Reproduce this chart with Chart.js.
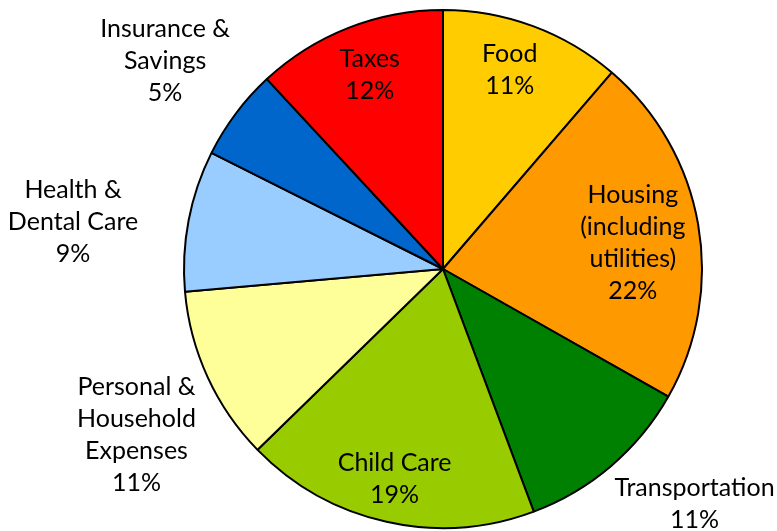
<!DOCTYPE html>
<html>
<head>
<meta charset="utf-8">
<script src="https://cdn.jsdelivr.net/npm/chart.js@4"></script>
<style>
  body { margin: 0; background: #fff; }
  #wrap { width: 777px; height: 531px; }
</style>
</head>
<body>
<div id="wrap"><canvas id="myChartBudget" width="777" height="531"></canvas></div>
<script>
// categories clockwise from 12 o'clock
const categories = ['Food', 'Housing (including utilities)', 'Transportation', 'Child Care',
  'Personal & Household Expenses', 'Health & Dental Care', 'Insurance & Savings', 'Taxes']
const labelLines = [['Food'], ['Housing', '(including', 'utilities)'], ['Transportation'], ['Child Care'],
  ['Personal &', 'Household', 'Expenses'], ['Health &', 'Dental Care'], ['Insurance &', 'Savings'], ['Taxes']]
const shares = [11.3, 21.9, 11.1, 18.4, 10.9, 8.8, 5.7, 11.9]
const pctLabels = ['11%', '22%', '11%', '19%', '11%', '9%', '5%', '12%']

const colors = ['#FFCC00', '#FF9900', '#008000', '#99CC00', '#FFFF99', '#99CCFF', '#0066CC', '#FF0000']
// where each label sits: fraction of radius, nudge in degrees
const labelRadius = [0.81, 0.74, 1.33, 0.83, 1.345, 1.44, 1.34, 0.80]
const labelNudge = [-1.8, 2, -6.4, 0.4, -3.7, -3.5, -0.1, 0.7]

const FONT = '25px Lato'
const LINE_H = 32

const sliceLabels = {
  id: 'sliceLabels',
  afterDatasetsDraw(chart) {
    const c = chart.ctx
    const arcs = chart.getDatasetMeta(0).data
    c.save()
    c.font = FONT
    c.fillStyle = '#000'
    c.textAlign = 'center'
    c.textBaseline = 'middle'
    arcs.forEach((arc, i) => {
      const p = arc.getProps(['x', 'y', 'startAngle', 'endAngle', 'outerRadius'], true)
      const mid = (p.startAngle + p.endAngle) / 2 + labelNudge[i] * Math.PI / 180
      const d = p.outerRadius * labelRadius[i]
      const lx = p.x + d * Math.cos(mid)
      const ly = p.y + d * Math.sin(mid)
      const lines = labelLines[i].concat([pctLabels[i]])
      const top = ly - (lines.length - 1) * LINE_H / 2
      lines.forEach((t, k) => c.fillText(t, lx, top + k * LINE_H))
    })
    c.restore()
  }
}

var ctx = document.getElementById('myChartBudget')
var myChart = new Chart(ctx, {
  type: 'pie',
  data: {
    labels: categories,
    datasets: [{
      data: shares,
      backgroundColor: colors,
      borderColor: '#000',
      borderWidth: 2
    }]
  },
  options: {
    responsive: false,
    animation: false,
    layout: { padding: { left: 183, right: 74, top: 9, bottom: 2 } },
    plugins: {
      legend: { display: false },
      tooltip: { enabled: false }
    }
  },
  plugins: [sliceLabels]
})
</script>
</body>
</html>
